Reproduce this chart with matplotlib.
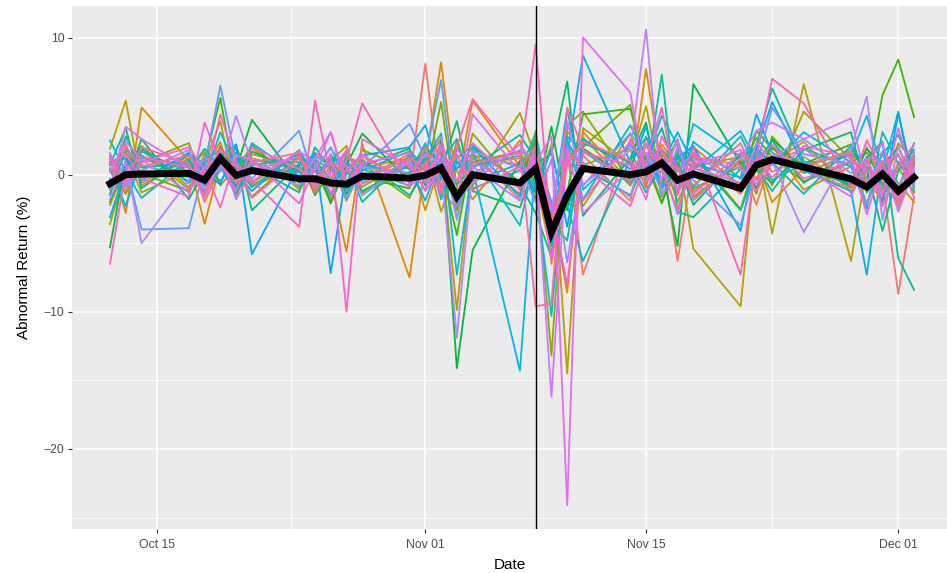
import numpy as np
import pandas as pd
import matplotlib
matplotlib.use('Agg')
import matplotlib.pyplot as plt
import matplotlib.dates as mdates

# trading days
dates = ['2016-10-12', '2016-10-13', '2016-10-14', '2016-10-17', '2016-10-18', '2016-10-19',
         '2016-10-20', '2016-10-21', '2016-10-24', '2016-10-25', '2016-10-26', '2016-10-27',
         '2016-10-28', '2016-10-31', '2016-11-01', '2016-11-02', '2016-11-03', '2016-11-04',
         '2016-11-07', '2016-11-08', '2016-11-09', '2016-11-10', '2016-11-11', '2016-11-14',
         '2016-11-15', '2016-11-16', '2016-11-17', '2016-11-18', '2016-11-21', '2016-11-22',
         '2016-11-23', '2016-11-25', '2016-11-28', '2016-11-29', '2016-11-30', '2016-12-01',
         '2016-12-02']
event_date = '2016-11-08'

# abnormal return per stock (%)
s00 = [0.5, -1.2, 1.0, 0.8, -0.5, 2.1, -0.8, 1.2, 0.3, -1.0, 0.6, -1.5, 0.9, -0.4, 8.1, -1.2, -2.5, 1.6, -1.8, 2.3, -3.5, 1.8, -7.3, 2.6, 0.4, 1.5, -6.3, 1.0, -1.4, 1.9, 0.2, 1.3, -0.8, 2.0, -0.5, -8.7, -1.6]
s01 = [-1.5, 2.2, -0.6, 1.4, -2.0, 0.5, 1.1, -0.9, 0.7, 1.3, -1.8, 0.4, -0.3, 1.5, -0.7, 2.4, -3.1, 0.8, 1.2, -0.5, -5.8, 3.2, 1.4, -1.9, 2.8, -0.6, 1.7, -1.2, 0.9, -2.2, 1.4, 0.3, -1.0, 0.8, 1.6, -2.4, 0.6]
s02 = [1.2, -2.8, 4.9, 1.0, -3.6, 0.8, 2.0, -0.6, 1.5, -0.8, -0.3, -5.6, 2.2, -7.5, 0.9, 8.2, -1.0, 5.4, 0.6, 1.8, -2.2, -8.6, 3.1, -0.5, 7.7, 0.4, -1.4, 2.0, -0.8, 1.1, -2.0, 0.5, 1.8, -1.2, 0.3, 1.5, -0.9]
s03 = [-2.2, 0.6, 1.8, -1.1, 0.4, 2.4, -1.5, 0.9, -0.2, 1.6, 0.8, -1.9, 0.5, 1.2, -2.6, 1.0, 0.3, -1.8, 2.5, -0.9, -4.1, 1.5, -2.3, 3.0, -0.4, 2.2, 0.7, -1.6, 1.0, -0.3, 2.1, -1.1, 0.6, -0.5, -1.8, 0.9, 1.3]
s04 = [0.9, 1.5, -1.3, 0.3, 1.7, -0.8, 0.6, 2.0, -1.1, 0.4, -2.0, 1.1, -0.6, 0.7, 1.8, -2.7, 0.5, 1.2, -1.4, 3.2, -6.5, 0.9, 2.7, -0.8, 1.3, -2.0, 0.4, 1.6, -2.5, 1.2, 0.9, 2.4, -1.3, 0.8, 1.0, -0.6, -2.0]
s05 = [1.9, 5.4, -0.8, 1.2, -1.5, 0.4, 1.9, -0.7, 0.5, -1.2, 1.4, 0.2, -0.9, 1.1, 0.3, 1.6, -9.9, 1.4, 0.7, -1.3, 2.2, -14.5, 3.4, 0.8, 5.0, -0.6, 1.7, -5.4, -9.6, 2.1, -4.3, 6.6, -6.3, 0.6, -1.1, 2.3, 1.0]
s06 = [-3.6, 0.4, 2.1, -0.9, 0.8, 3.9, -1.6, 1.5, 0.6, -0.4, 1.0, 2.1, -1.3, 0.2, 1.7, -1.5, 2.4, -0.8, 4.5, 1.2, -3.8, -2.4, 0.7, 1.9, -1.0, 0.3, 2.6, -1.7, 0.9, 1.5, -0.8, 4.6, 1.1, -2.1, 0.5, 1.4, -0.4]
s07 = [0.3, -1.4, 0.9, 2.3, -0.7, 1.1, 0.2, -1.6, 1.4, 0.5, -0.9, 1.3, 0.8, -1.7, 1.0, 0.5, -2.2, 3.0, -1.1, 0.4, -13.2, 3.6, 4.6, -0.5, 2.2, 1.4, -2.0, 0.6, 1.3, -1.4, 2.8, 0.1, 1.5, -0.9, 0.2, -1.8, 0.8]
s08 = [-0.8, 1.6, 0.1, -1.2, 1.5, 0.7, -0.4, 2.2, -0.9, 1.0, 0.5, -0.6, 1.8, 0.4, -0.3, 5.3, -2.6, 0.9, 1.7, -0.7, -2.9, 1.2, 2.0, 5.1, -0.8, 1.9, 0.4, -1.0, 0.6, 2.7, 1.3, -0.5, 0.9, 1.6, -0.7, 0.5, -1.3]
s09 = [-2.0, 0.8, 1.4, -0.5, 0.9, 5.6, -0.9, 0.7, 1.2, -1.5, 0.3, 1.6, -0.2, -1.0, 2.1, 0.6, -4.4, 1.8, -0.5, 2.6, -5.2, -1.3, 4.4, 4.8, 0.9, -2.1, 1.3, 0.5, -0.9, 3.2, 1.9, 0.8, 2.2, -0.4, 5.8, 8.4, 4.2]
s10 = [-5.3, 1.1, -0.2, 0.6, -1.3, 2.0, 0.4, 4.0, -0.6, 0.9, -2.1, 0.7, 3.0, -0.5, 1.3, 2.5, -14.1, -5.5, 1.0, -1.8, 3.5, -2.6, 1.9, -0.3, 1.6, 0.5, -5.2, 6.6, 0.8, -1.0, 2.6, 0.4, -0.7, 1.9, 0.6, -1.5, 0.9]
s11 = [1.4, -0.6, 2.6, -1.8, 0.3, 0.9, -1.1, 1.7, 0.2, -0.7, 1.5, -1.4, 0.6, 1.9, -0.8, 0.4, 3.9, -1.2, -2.4, 0.8, 1.5, 6.8, -3.0, 1.2, 3.8, -1.6, 0.9, -2.2, 1.5, 0.3, -0.6, 1.8, 3.1, -1.3, 0.7, 2.0, -0.5]
s12 = [-1.1, 2.8, 0.5, 0.9, -0.6, 1.3, 2.2, -2.6, 0.8, 1.1, -0.4, 0.3, -1.2, 0.7, 1.6, -0.9, 1.2, 2.1, -0.7, -2.8, -6.0, 2.4, 0.5, -1.5, 1.1, 3.4, -0.3, 1.4, -2.6, 0.8, 2.5, -0.6, 1.7, 0.4, -4.1, 0.3, 1.8]
s13 = [0.7, 3.4, -1.0, 1.5, 0.8, -0.5, 1.2, 0.6, -1.3, 2.0, 0.4, -0.8, 1.1, -1.5, 0.2, 1.8, -0.7, 0.5, 2.9, 1.1, -3.4, -4.8, 2.3, 0.9, -0.2, 7.3, -2.7, -3.1, 0.4, 2.2, 6.3, 1.0, -0.9, 1.2, 2.4, -6.1, -8.4]
s14 = [-0.3, -0.9, 1.7, 0.2, 1.9, 0.6, -1.4, 1.0, 0.9, -0.2, 1.3, 0.8, -2.0, 1.4, -0.5, 0.9, 2.6, -1.0, 0.3, 3.0, -2.5, 2.6, -1.8, 3.6, 1.3, -0.8, 1.5, -0.9, 2.8, 0.5, -1.2, 1.9, 0.6, -2.5, 3.1, 0.8, -0.6]
s15 = [2.5, 0.2, -1.7, 1.1, -0.3, 3.1, 0.5, -0.9, 1.6, 0.3, 2.0, -0.5, 0.7, 0.1, 2.3, -1.8, 0.8, 1.5, -3.7, 1.6, -2.0, -2.2, -6.3, 1.1, 2.7, 0.6, -1.0, 2.4, -0.3, 1.7, 0.9, -1.4, 2.1, 0.5, -0.8, -2.0, 1.4]
s16 = [-1.4, 1.8, 0.7, -0.2, 1.2, 1.7, -1.0, 2.3, -0.1, 0.8, -1.5, 1.4, 0.4, -0.8, 1.1, 3.0, -7.3, 0.6, 1.4, -1.1, -10.3, 2.8, 1.7, -0.6, 0.9, 4.3, 2.1, 0.3, 3.2, 1.0, -0.4, 0.8, 1.4, 4.3, 0.2, 4.6, -1.2]
s17 = [0.4, -2.3, 1.2, 0.7, -0.8, 0.3, 1.6, 0.5, 0.2, 1.4, 0.6, -1.1, 0.3, 1.7, 0.6, -0.4, 1.9, 0.4, -14.3, 1.1, -3.0, 4.8, -1.1, 2.2, 0.5, 1.7, -0.6, 3.7, 1.3, 2.0, 0.7, 3.1, 0.9, -1.0, 1.5, 2.9, 0.2]
s18 = [-3.1, 0.5, 1.9, -0.6, 0.9, 1.3, 0.2, -1.2, 1.8, -0.5, 1.1, 0.9, -0.4, 0.6, -1.9, 1.3, 0.4, 2.0, -1.6, 2.4, -5.1, 1.4, 8.7, 0.9, -1.3, 0.7, 3.1, 0.8, -0.2, 4.4, 1.6, 0.3, -1.2, -7.3, 0.9, -1.1, 2.3]
s19 = [0.9, 1.2, -0.4, 1.6, 0.1, -0.7, 2.2, -5.8, 0.7, 1.5, -7.2, 0.3, 1.4, 2.0, 3.6, -0.3, 1.0, -0.5, 0.8, -1.3, 1.9, -3.8, 2.6, 0.4, 3.5, -0.9, 1.2, 2.1, -4.1, 1.8, 5.3, 0.7, -0.6, 1.3, -2.0, 4.5, -0.7]
s20 = [-0.5, 0.8, -4.0, -3.9, 0.6, 6.5, 0.9, -0.3, 3.2, -0.6, 1.1, -1.8, 0.5, 3.7, 1.2, 6.9, -2.3, 0.1, 1.8, 0.9, -4.5, 2.2, -0.8, 3.0, 1.4, -1.2, 2.0, -0.4, -3.7, 0.6, 4.9, 1.5, 0.8, -2.2, 1.7, -0.9, 1.1]
s21 = [1.6, -0.9, 0.3, 1.8, -1.1, 0.7, -0.5, 1.0, -0.8, 0.4, 1.9, 0.6, -1.5, 0.9, -0.6, 2.2, -3.3, 1.7, 0.5, -2.0, 1.1, -6.4, 0.9, -1.6, 2.3, 0.8, -2.9, 1.1, 0.4, -0.7, 1.3, 2.6, 0.1, 1.2, -1.4, 0.6, 1.0]
s22 = [-1.8, 1.0, -5.0, -0.4, 1.3, 0.2, 4.3, 0.8, -0.3, 1.2, 3.1, -0.9, 0.6, -0.2, 1.5, 0.8, -11.9, 0.6, -1.9, 1.4, -2.6, 3.9, -0.7, 1.8, 10.6, -1.5, 0.3, 1.6, -0.9, 2.3, 1.0, -4.2, 1.9, 5.7, -3.3, 2.1, -0.8]
s23 = [0.2, 2.4, 1.1, -1.3, 0.5, 1.6, -1.8, 0.3, 1.3, -0.9, 0.2, 1.8, -0.7, 1.0, -1.2, 0.5, 1.4, -0.6, 2.2, 0.7, -16.2, 1.9, -2.8, 0.4, 1.6, -0.3, 2.5, -1.9, 1.2, 3.2, 3.8, 2.6, 4.1, -0.5, 1.0, -2.7, 0.4]
s24 = [-1.0, 3.5, 2.6, 0.5, -1.7, 1.2, 0.6, -0.5, 1.7, 0.9, -1.3, 0.4, 1.5, -0.9, 0.3, 1.3, -2.0, 4.4, 0.2, 0.9, 2.8, -24.1, 10.0, 6.0, -0.5, 1.2, -1.0, 0.7, 1.8, -0.8, 1.4, 0.5, -1.6, 0.9, 2.3, -1.9, 0.7]
s25 = [1.3, -0.7, 0.9, 2.0, 0.3, -2.4, 1.4, 1.1, -2.1, 0.5, 3.1, -0.6, 0.8, 1.6, -0.4, -0.9, 1.8, 1.0, -1.0, 2.0, -6.2, 1.3, -1.9, 2.4, 0.7, 1.9, -1.3, 0.5, -0.6, 1.1, -0.2, 2.1, 1.3, -2.9, 0.8, 1.5, -1.7]
s26 = [0.8, 1.5, -0.3, -1.6, 3.8, 0.9, -1.2, 2.0, 0.4, -0.8, 1.5, -10.0, 2.6, 0.6, -1.1, 1.9, -0.5, 2.3, -0.9, 1.5, -2.3, -8.0, 1.6, 0.7, -1.8, 2.8, 0.5, -1.4, 1.6, 0.9, 2.2, -0.3, 1.0, 0.4, -1.5, 3.4, -0.6]
s27 = [-6.5, 0.3, 1.3, 0.5, -0.6, 4.4, 0.8, -0.4, -3.8, 5.4, -0.2, 1.0, 5.2, -0.7, 0.9, -1.4, 2.0, 5.5, 1.2, 9.5, -4.6, 1.7, 0.6, -2.3, 1.0, 4.9, -1.5, 2.0, -7.3, 1.4, 7.0, 5.2, -0.9, 2.5, 0.3, -1.1, 1.6]
s28 = [1.1, -0.5, 2.0, 0.8, -1.4, 1.9, 0.7, -1.7, 1.2, 0.2, -0.6, 1.7, -0.3, 1.2, 0.5, 2.7, -1.9, 0.8, 1.6, -9.6, -9.4, 4.9, 1.8, -0.5, 2.1, 0.4, -2.6, 1.3, 0.7, -1.2, 0.9, 1.9, -0.4, 1.1, -2.3, 0.6, 2.2]
s29 = [-0.9, 2.0, 0.6, 1.4, -0.2, 1.0, -0.6, 0.9, 1.6, -1.3, 0.8, 0.2, 1.3, -0.4, 2.0, -0.8, 1.5, -1.1, 0.6, 2.1, -3.9, 0.7, 2.4, 1.0, -0.7, 1.6, 0.3, -0.8, 2.3, -0.4, 1.1, 0.6, 1.7, -1.0, 0.9, -2.1, 1.2]

stocks = [s00, s01, s02, s03, s04, s05, s06, s07, s08, s09, s10, s11, s12, s13, s14,
          s15, s16, s17, s18, s19, s20, s21, s22, s23, s24, s25, s26, s27, s28, s29]

# average abnormal return across stocks (%)
mean_ar = [-0.65, 0.0, 0.05, 0.1, -0.4, 1.2, -0.05, 0.3, -0.3, -0.3, -0.6, -0.7, -0.1, -0.25,
           -0.05, 0.5, -1.6, 0.0, -0.6, 0.45, -4.2, -1.5, 0.45, 0.0, 0.2, 0.85, -0.4, 0.05,
           -1.0, 0.7, 1.1, 0.55, -0.3, -0.9, 0.05, -1.2, -0.2]

major_x = ['2016-10-15', '2016-11-01', '2016-11-15', '2016-12-01']
minor_x = ['2016-10-23 12:00', '2016-11-08 00:00', '2016-11-23 00:00']


def hue_pal(n, c=100.0, l=65.0):
    # ggplot2 default discrete colours (HCL wheel)
    hues = np.linspace(15, 375, n + 1)[:n]
    Xn, Yn, Zn = 0.95047, 1.0, 1.08883
    un = 4 * Xn / (Xn + 15 * Yn + 3 * Zn)
    vn = 9 * Yn / (Xn + 15 * Yn + 3 * Zn)
    M = np.array([[3.2404542, -1.5371385, -0.4985314],
                  [-0.9692660, 1.8760108, 0.0415560],
                  [0.0556434, -0.2040259, 1.0572252]])
    out = []
    for h in hues:
        hr = np.radians(h)
        u, v = c * np.cos(hr), c * np.sin(hr)
        Y = Yn * ((l + 16) / 116) ** 3
        up = u / (13 * l) + un
        vp = v / (13 * l) + vn
        X = Y * 9 * up / (4 * vp)
        Z = Y * (12 - 3 * up - 20 * vp) / (4 * vp)
        rgb = M @ np.array([X, Y, Z])
        rgb = np.where(rgb <= 0.0031308, 12.92 * rgb, 1.055 * np.clip(rgb, 0, None) ** (1 / 2.4) - 0.055)
        out.append(tuple(np.clip(rgb, 0, 1)))
    return out


x = pd.to_datetime(dates)
colors = hue_pal(len(stocks))

fig = plt.figure(figsize=(9.47, 5.73), dpi=100)
ax = fig.add_axes([72 / 947, 1 - 529 / 573, (947 - 72) / 947, (529 - 5.5) / 573])
ax.set_facecolor('#EBEBEB')

for s, col in zip(stocks, colors):
    ax.plot(x, s, color=col, lw=1.3, zorder=2)
ax.plot(x, mean_ar, color='black', lw=5, solid_joinstyle='miter', zorder=3)
ax.axvline(pd.Timestamp(event_date), color='black', lw=1.0, zorder=4)

# x range: panel is cut at the right edge of the image
xn = mdates.date2num(x)
x_left = xn.min() - 2.41
ax.set_xlim(x_left, x_left + 55.5)
allv = np.concatenate([np.array(stocks).ravel(), mean_ar])
yr = allv.max() - allv.min()
ax.set_ylim(allv.min() - 0.05 * yr, allv.max() + 0.05 * yr)

ax.set_xticks(pd.to_datetime(major_x))
ax.xaxis.set_major_formatter(mdates.DateFormatter('%b %d'))
ax.set_xticks(pd.to_datetime(minor_x), minor=True)
ax.set_yticks([-20, -10, 0, 10])
ax.set_yticks([-25, -15, -5, 5], minor=True)

ax.grid(which='major', color='white', lw=1.1, zorder=0)
ax.grid(which='minor', color='white', lw=0.55, zorder=0)
ax.set_axisbelow(True)
for sp in ax.spines.values():
    sp.set_visible(False)
ax.tick_params(which='major', length=2.9, width=0.8, color='#333333', labelcolor='#4D4D4D',
               labelsize=8.8, pad=2.5)
ax.tick_params(axis='x', which='major', pad=4)
ax.tick_params(which='minor', length=0)
for lab in ax.get_xticklabels() + ax.get_yticklabels():
    lab.set_fontfamily('Liberation Sans')

ax.set_xlabel('Date', fontsize=11, fontfamily='Liberation Sans', labelpad=5.5)
ax.set_ylabel('Abnormal Return (%)', fontsize=11, fontfamily='Liberation Sans', labelpad=9)

fig.savefig('out.png', dpi=100)
